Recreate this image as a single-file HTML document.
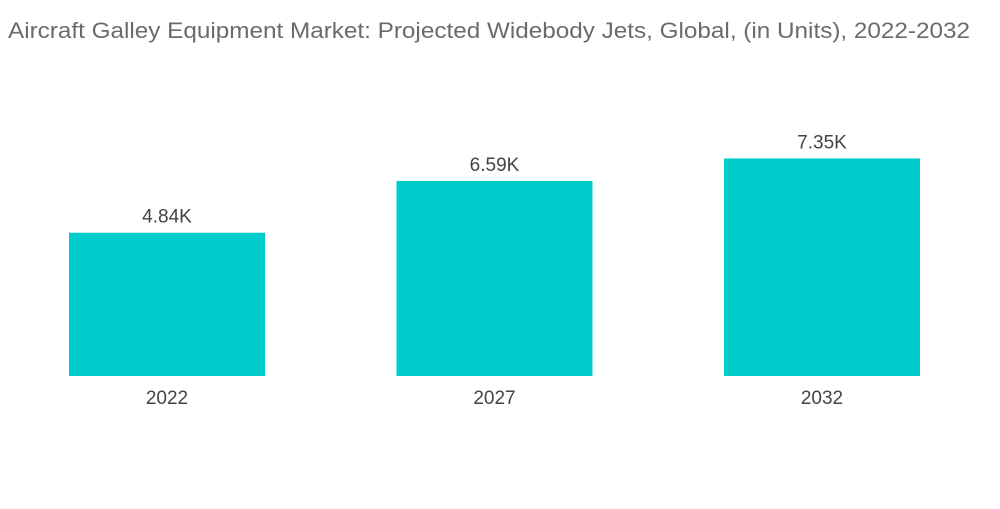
<!DOCTYPE html>
<html><head><meta charset="utf-8"><style>
body{margin:0;background:#fff;width:1000px;height:504px;overflow:hidden;font-family:"Liberation Sans",sans-serif}
</style></head><body>
<svg width="1000" height="504">
<text x="8" y="38" font-size="22" fill="#6b6b6b" textLength="962" lengthAdjust="spacingAndGlyphs">Aircraft Galley Equipment Market: Projected Widebody Jets, Global, (in Units), 2022-2032</text>
<g id="bars"></g>
</svg>
<script>
const categories=["2022","2027","2032"];
const values=[4.84,6.59,7.35];
const labels=["4.84K","6.59K","7.35K"];
const base=376, pxPerK=29.6, left=69, step=327.5, bw=196;
const y=v=>base-v*pxPerK;
const x=i=>left+i*step;
const g=document.getElementById('bars');
const ns="http://www.w3.org/2000/svg";
categories.forEach((c,i)=>{
  const r=document.createElementNS(ns,'rect');
  r.setAttribute('x',x(i));r.setAttribute('y',y(values[i]));
  r.setAttribute('width',bw);r.setAttribute('height',base-y(values[i]));
  r.setAttribute('fill','#00cccc');
  
  
  g.appendChild(r);
  const t=document.createElementNS(ns,'text');
  t.setAttribute('x',x(i)+bw/2);t.setAttribute('y',y(values[i])-10);
  t.setAttribute('text-anchor','middle');t.setAttribute('font-size','19');t.setAttribute('fill','#444');
  t.textContent=labels[i];
  
  
  g.appendChild(t);
  const a=document.createElementNS(ns,'text');
  a.setAttribute('x',x(i)+bw/2);a.setAttribute('y',404);
  a.setAttribute('text-anchor','middle');a.setAttribute('font-size','19');a.setAttribute('fill','#444');
  a.textContent=c;
  
  
  g.appendChild(a);
});
</script>
</body></html>
